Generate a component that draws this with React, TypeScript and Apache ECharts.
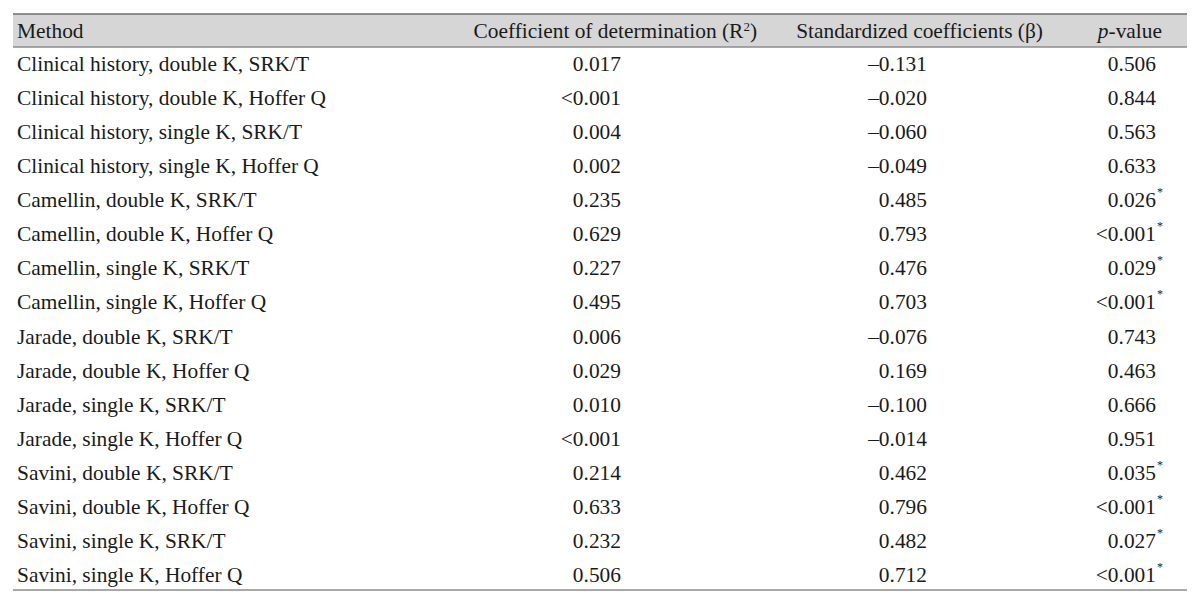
import React, { useEffect, useRef } from "react";
import * as echarts from "echarts";

const methods = [
  "Clinical history, double K, SRK/T",
  "Clinical history, double K, Hoffer Q",
  "Clinical history, single K, SRK/T",
  "Clinical history, single K, Hoffer Q",
  "Camellin, double K, SRK/T",
  "Camellin, double K, Hoffer Q",
  "Camellin, single K, SRK/T",
  "Camellin, single K, Hoffer Q",
  "Jarade, double K, SRK/T",
  "Jarade, double K, Hoffer Q",
  "Jarade, single K, SRK/T",
  "Jarade, single K, Hoffer Q",
  "Savini, double K, SRK/T",
  "Savini, double K, Hoffer Q",
  "Savini, single K, SRK/T",
  "Savini, single K, Hoffer Q",
];
const r2 = ["0.017", "<0.001", "0.004", "0.002", "0.235", "0.629", "0.227", "0.495", "0.006", "0.029", "0.010", "<0.001", "0.214", "0.633", "0.232", "0.506"];
const beta = ["–0.131", "–0.020", "–0.060", "–0.049", "0.485", "0.793", "0.476", "0.703", "–0.076", "0.169", "–0.100", "–0.014", "0.462", "0.796", "0.482", "0.712"];
const pValues = ["0.506", "0.844", "0.563", "0.633", "0.026", "<0.001", "0.029", "<0.001", "0.743", "0.463", "0.666", "0.951", "0.035", "<0.001", "0.027", "<0.001"];
const significant = [false, false, false, false, true, true, true, true, false, false, false, false, true, true, true, true];

export default function App() {
  const ref = useRef<HTMLDivElement>(null);
  useEffect(() => {
    document.body.style.margin = "0";
    const chart = echarts.init(ref.current!, null, { renderer: "svg" });
    const font = "'Liberation Serif', 'Times New Roman', serif";
    const color = "#1a1a1a";
    const fs = 21.4;
    const left = 13;
    const right = 1187;
    const topLine = 14;
    const headLine = 47;
    const bottomLine = 590;
    const row0 = 63.5;
    const rowH = 34.13;
    const headY = 31;
    const els: any[] = [];
    els.push({ type: "rect", shape: { x: left, y: topLine, width: right - left, height: headLine - topLine }, style: { fill: "#d6d6d6" }, silent: true });
    els.push({ type: "line", shape: { x1: left, y1: topLine, x2: right, y2: topLine }, style: { stroke: "#6e6e6e", lineWidth: 1.5 } });
    els.push({ type: "line", shape: { x1: left, y1: headLine, x2: right, y2: headLine }, style: { stroke: "#8c8c8c", lineWidth: 1.5 } });
    els.push({ type: "line", shape: { x1: left, y1: bottomLine, x2: right, y2: bottomLine }, style: { stroke: "#8c8c8c", lineWidth: 1.5 } });
    const txt = (x: number, y: number, text: string, align: string, extra: any = {}) => ({
      type: "text",
      x,
      y,
      style: { text, fill: color, fontSize: fs, fontFamily: font, align, verticalAlign: "middle", ...extra },
    });
    els.push(txt(17, headY, "Method", "left"));
    els.push(
      txt(757, headY, "{a|Coefficient of determination (R}{s|2}{a|)}", "right", {
        rich: {
          a: { fontSize: fs, fontFamily: font, fill: color, lineHeight: 22 },
          s: { fontSize: 13, fontFamily: font, fill: color, lineHeight: 14, verticalAlign: "top" },
        },
      })
    );
    els.push(txt(1043, headY, "Standardized coefficients (β)", "right"));
    els.push(
      txt(1162, headY, "{i|p}{a|-value}", "right", {
        rich: {
          i: { fontSize: fs, fontFamily: font, fill: color, fontStyle: "italic" },
          a: { fontSize: fs, fontFamily: font, fill: color },
        },
      })
    );
    methods.forEach((m, i) => {
      const y = row0 + i * rowH;
      els.push(txt(17, y, m, "left"));
      els.push(txt(621, y, r2[i], "right"));
      els.push(txt(927, y, beta[i], "right"));
      els.push(txt(1156, y, pValues[i], "right"));
      if (significant[i]) {
        els.push({
          type: "text",
          x: 1157,
          y: y - 8.5,
          style: { text: "*", fill: color, fontSize: 12, fontFamily: font, align: "left", verticalAlign: "middle" },
        });
      }
    });
    chart.setOption({ animation: false, backgroundColor: "#ffffff", graphic: { elements: els } });
    return () => chart.dispose();
  }, []);
  return <div ref={ref} style={{ width: 1200, height: 605 }} />;
}
